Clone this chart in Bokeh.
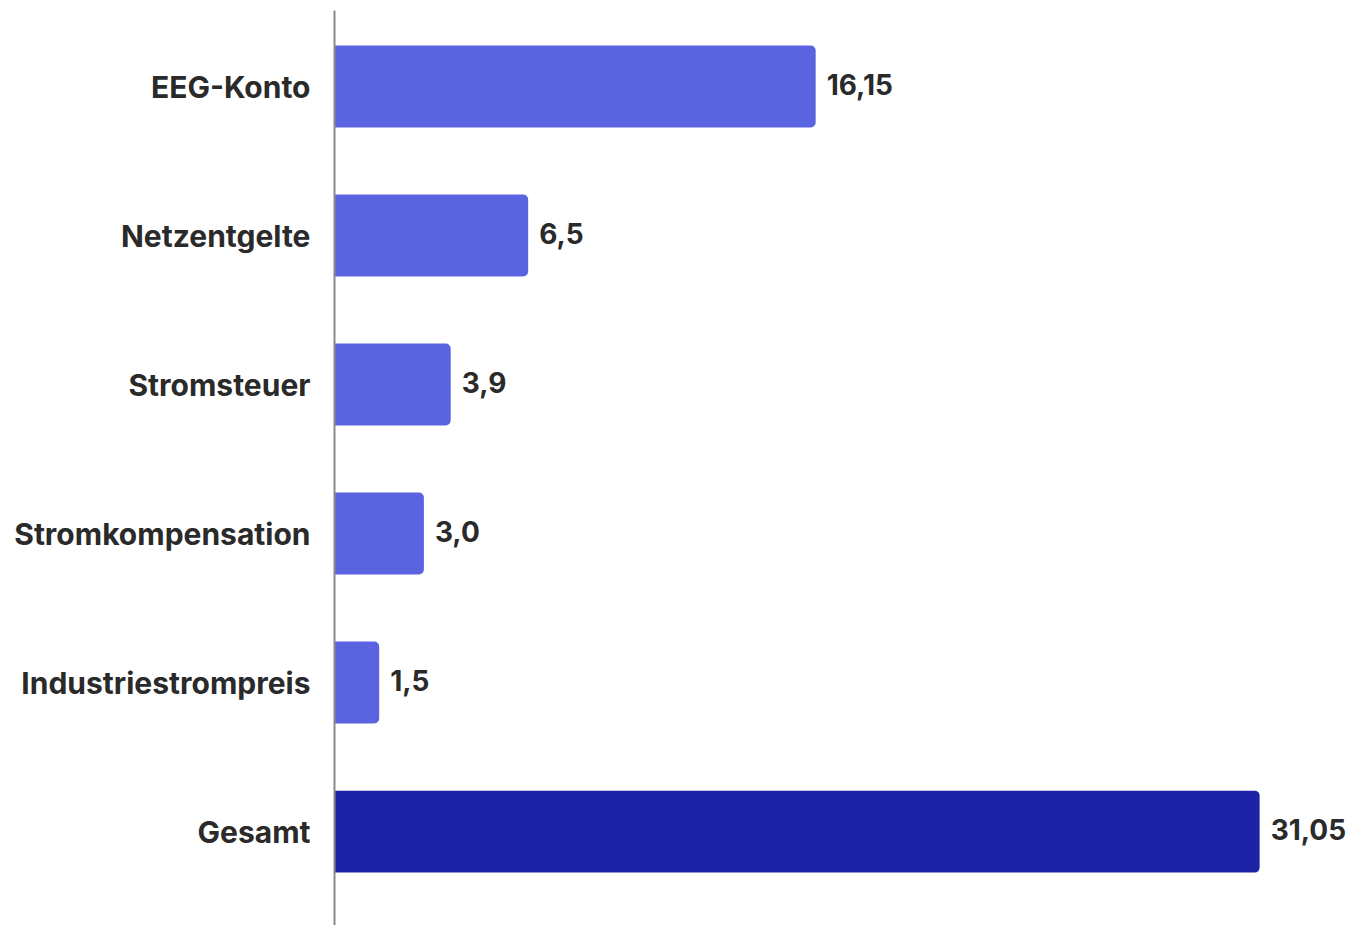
from bokeh.plotting import figure
from bokeh.models import ColumnDataSource, FixedTicker, Range1d
from bokeh.embed import file_html
from bokeh.resources import INLINE
from bokeh.core.properties import value

categories = ["EEG-Konto", "Netzentgelte", "Stromsteuer", "Stromkompensation", "Industriestrompreis", "Gesamt"]
values = [16.15, 6.5, 3.9, 3.0, 1.5, 31.05]
value_labels = ["16,15", "6,5", "3,9", "3,0", "1,5", "31,05"]
colors = ["#5A64E0", "#5A64E0", "#5A64E0", "#5A64E0", "#5A64E0", "#1D22A6"]

n = len(categories)
ypos = [n - 1 - i for i in range(n)]

src = ColumnDataSource(dict(y=ypos, v=values, lab=value_labels, c=colors, cat=categories))

p = figure(width=1350, height=925, output_backend="svg", toolbar_location=None,
           x_range=Range1d(0, 34.1), y_range=Range1d(-0.63, n - 1 + 0.51),
           min_border_left=334, min_border_right=0, min_border_top=10, min_border_bottom=0)
p.outline_line_color = None
p.grid.visible = False
p.background_fill_color = "white"
p.border_fill_color = "white"

p.hbar(y="y", right="v", left=0, height=0.55, fill_color="c", line_color=None,
       border_radius=(0, 5, 5, 0), source=src)
p.text(x="v", y="y", text="lab", x_offset=11, y_offset=-2, text_align="left", text_baseline="middle",
       text_font=value("Inter"), text_font_style="bold", text_font_size="28px",
       text_color="#2a2a2a", source=src)

p.xaxis.visible = False
ya = p.yaxis[0]
ya.ticker = FixedTicker(ticks=ypos)
ya.major_label_overrides = {yy: c for yy, c in zip(ypos, categories)}
ya.major_tick_line_color = None
ya.minor_tick_line_color = None
ya.axis_line_color = "#8a8a8a"
ya.axis_line_width = 2
ya.major_label_standoff = 18
ya.major_label_text_font = "Inter"
ya.major_label_text_font_style = "bold"
ya.major_label_text_font_size = "30px"
ya.major_label_text_color = "#2a2a2a"

open("out.html", "w").write(file_html(p, INLINE))
